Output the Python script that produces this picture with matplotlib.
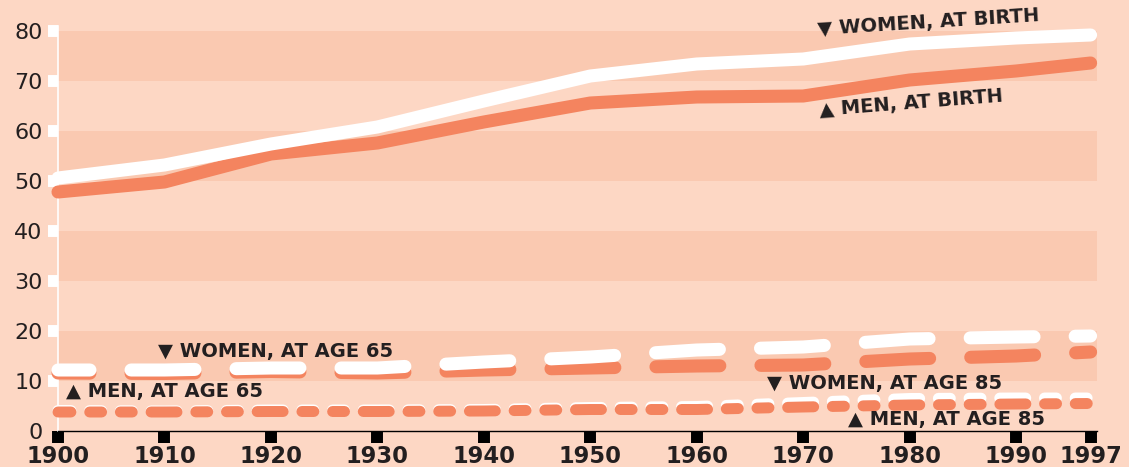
import matplotlib
matplotlib.use('Agg')
import matplotlib.pyplot as plt

plt.rcParams['font.family'] = ['DejaVu Sans']
plt.rcParams['lines.scale_dashes'] = False

# Life expectancy (years)
years = [1900, 1910, 1920, 1930, 1940, 1950, 1960, 1970, 1980, 1990, 1997]
women_birth = [50.6, 53.2, 57.4, 60.8, 66.0, 71.0, 73.4, 74.4, 77.4, 78.6, 79.2]
men_birth = [47.8, 49.8, 55.4, 57.6, 61.8, 65.6, 66.8, 67.0, 70.2, 72.0, 73.6]
women_65 = [12.2, 12.2, 12.6, 12.6, 13.8, 14.8, 16.2, 16.8, 18.4, 18.8, 19.0]
men_65 = [11.6, 11.5, 11.9, 11.6, 12.2, 12.6, 13.0, 13.2, 14.4, 15.0, 15.8]
women_85 = [4.1, 4.0, 4.2, 4.2, 4.3, 4.7, 4.9, 5.7, 6.5, 6.6, 6.6]
men_85 = [3.8, 3.8, 3.9, 3.9, 4.0, 4.3, 4.3, 4.8, 5.2, 5.4, 5.5]

y_ticks = [0, 10, 20, 30, 40, 50, 60, 70, 80]
bands = [(10, 20), (30, 40), (50, 60), (70, 80)]

bg = '#FDD7C4'
band_col = '#FAC9B1'
orange = '#F4845F'
ink = '#231F20'

fig = plt.figure(figsize=(11.29, 4.67), dpi=100, facecolor=bg)
ax = fig.add_axes([58 / 1129, 36 / 467, 1039 / 1129, 405 / 467])
ax.set_facecolor(bg)
ax.set_xlim(1900, 1997.6)
ax.set_ylim(0, 81)

for lo, hi in bands:
    ax.axhspan(lo, hi, color=band_col, lw=0, zorder=0)

# at birth: solid lines, white on top
lw_big = 9.4
ax.plot(years, men_birth, color=orange, lw=lw_big, solid_capstyle='round',
        solid_joinstyle='round', clip_on=False, zorder=3)
ax.plot(years, women_birth, color='white', lw=lw_big, solid_capstyle='round',
        solid_joinstyle='round', clip_on=False, zorder=4)

# at age 65: long dashes roughly centred on each decade
dash65 = (23, (46, 29.6))
ax.plot(years, men_65, color=orange, lw=lw_big, linestyle=dash65,
        dash_capstyle='round', clip_on=False, zorder=3)
ax.plot(years, women_65, color='white', lw=lw_big, linestyle=dash65,
        dash_capstyle='round', clip_on=False, zorder=4)

# at age 85: long-short-short dashes, orange on top
dash85 = (9.4, (18.7, 13.5, 8.6, 13.5, 8.6, 13.5))
ax.plot(years, women_85, color='white', lw=7.9, linestyle=dash85,
        dash_capstyle='round', clip_on=False, zorder=3)
ax.plot(years, men_85, color=orange, lw=7.9, linestyle=dash85,
        dash_capstyle='round', clip_on=False, zorder=4)

# labels
lab = dict(fontsize=14, fontweight='bold', color=ink, zorder=6)
ax.text(1981.8, 81.7, '▼ WOMEN, AT BIRTH', ha='center', va='center',
        rotation=3.6, rotation_mode='anchor', **lab)
ax.text(1980.1, 65.6, '▲ MEN, AT BIRTH', ha='center', va='center',
        rotation=4.5, rotation_mode='anchor', **lab)
ax.text(1909.4, 15.8, '▼ WOMEN, AT AGE 65', ha='left', va='center', **lab)
ax.text(1900.75, 8.0, '▲ MEN, AT AGE 65', ha='left', va='center', **lab)
ax.text(1966.6, 9.6, '▼ WOMEN, AT AGE 85', ha='left', va='center', **lab)
ax.text(1974.2, 2.4, '▲ MEN, AT AGE 85', ha='left', va='center', **lab)

# axes styling
for s in ['top', 'right']:
    ax.spines[s].set_visible(False)
ax.spines['left'].set_color('white')
ax.spines['left'].set_linewidth(1.2)
ax.spines['bottom'].set_color('black')
ax.spines['bottom'].set_linewidth(1.0)
ax.spines['bottom'].set_zorder(5)

ax.set_xticks(years)
ax.set_xticklabels([str(y) for y in years], fontsize=16.3, fontweight='bold', color=ink)
ax.tick_params(axis='x', direction='out', length=8.6, width=8.6, color='black', pad=1.5)
ax.set_yticks(y_ticks)
ax.set_yticklabels([str(v) for v in y_ticks], fontsize=16, color=ink)
ax.tick_params(axis='y', direction='out', length=7.2, width=8.6, color='white', pad=4)
# no white mark at zero
ax.yaxis.get_major_ticks()[0].tick1line.set_visible(False)

fig.savefig('out.png', dpi=100, facecolor=bg)
